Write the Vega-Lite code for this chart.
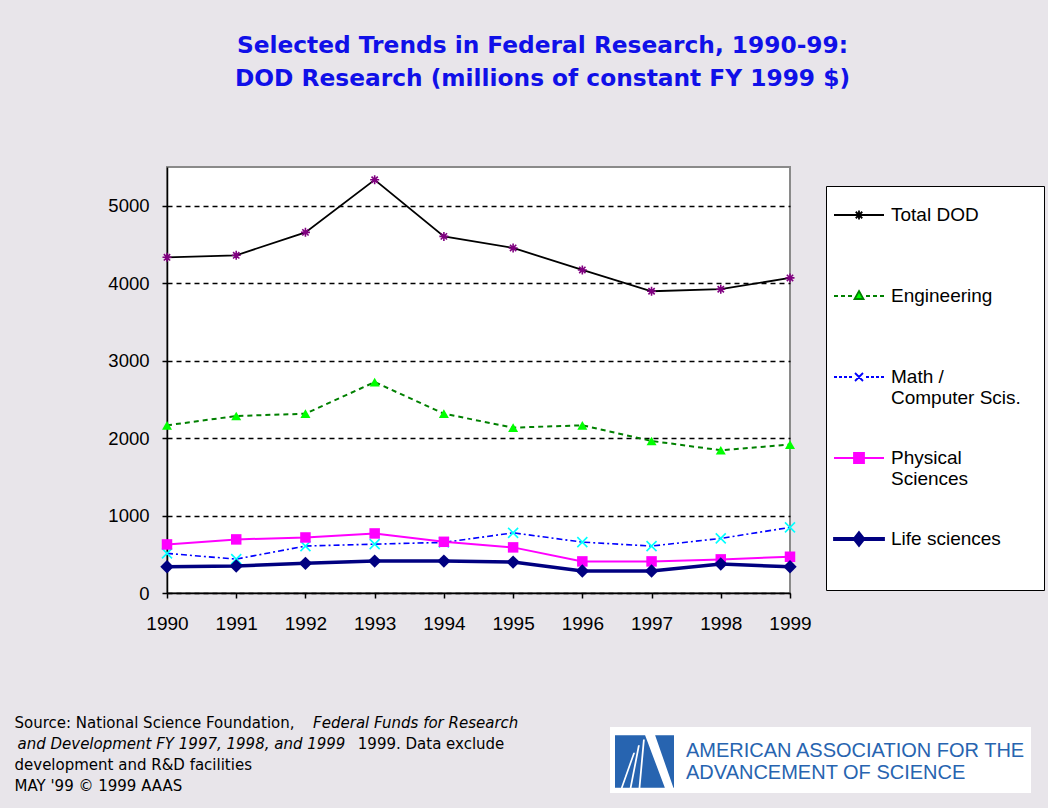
{
  "$schema": "https://vega.github.io/schema/vega-lite/v6.json",
  "width": 623,
  "height": 426,
  "autosize": "none",
  "padding": {"left": 167, "top": 167, "right": 258, "bottom": 215},
  "background": "#e8e5ea",
  "title": {
    "text": ["Selected Trends in Federal Research, 1990-99:", "DOD Research (millions of constant FY 1999 $)"],
    "font": "DejaVu Sans",
    "fontSize": 23.3,
    "fontWeight": "bold",
    "color": "#1010e8",
    "anchor": "middle",
    "frame": "group",
    "dx": 64,
    "offset": 76,
    "lineHeight": 33
  },
  "config": {
    "view": {"fill": "white", "stroke": "#8a8a8a", "strokeWidth": 2},
    "axis": {
      "domainColor": "black",
      "domainWidth": 1.5,
      "tickColor": "black",
      "tickWidth": 1.5,
      "tickSize": 5,
      "labelFont": "Liberation Sans",
      "labelColor": "black"
    }
  },
  "resolve": {
    "scale": {"shape": "independent", "stroke": "independent", "fill": "independent"},
    "legend": {"shape": "independent", "stroke": "independent", "fill": "independent"}
  },
  "data": {
    "values": [
      {"year": 1990, "series": "Total DOD", "value": 4334},
      {"year": 1991, "series": "Total DOD", "value": 4360},
      {"year": 1992, "series": "Total DOD", "value": 4656},
      {"year": 1993, "series": "Total DOD", "value": 5335},
      {"year": 1994, "series": "Total DOD", "value": 4604},
      {"year": 1995, "series": "Total DOD", "value": 4455},
      {"year": 1996, "series": "Total DOD", "value": 4171},
      {"year": 1997, "series": "Total DOD", "value": 3896},
      {"year": 1998, "series": "Total DOD", "value": 3922},
      {"year": 1999, "series": "Total DOD", "value": 4068},
      {"year": 1990, "series": "Engineering", "value": 2165},
      {"year": 1991, "series": "Engineering", "value": 2285},
      {"year": 1992, "series": "Engineering", "value": 2315},
      {"year": 1993, "series": "Engineering", "value": 2723},
      {"year": 1994, "series": "Engineering", "value": 2315},
      {"year": 1995, "series": "Engineering", "value": 2135},
      {"year": 1996, "series": "Engineering", "value": 2165},
      {"year": 1997, "series": "Engineering", "value": 1963},
      {"year": 1998, "series": "Engineering", "value": 1843},
      {"year": 1999, "series": "Engineering", "value": 1916},
      {"year": 1990, "series": "Math / Computer Scis.", "value": 511},
      {"year": 1991, "series": "Math / Computer Scis.", "value": 438},
      {"year": 1992, "series": "Math / Computer Scis.", "value": 606},
      {"year": 1993, "series": "Math / Computer Scis.", "value": 631},
      {"year": 1994, "series": "Math / Computer Scis.", "value": 653},
      {"year": 1995, "series": "Math / Computer Scis.", "value": 777},
      {"year": 1996, "series": "Math / Computer Scis.", "value": 657},
      {"year": 1997, "series": "Math / Computer Scis.", "value": 606},
      {"year": 1998, "series": "Math / Computer Scis.", "value": 705},
      {"year": 1999, "series": "Math / Computer Scis.", "value": 847},
      {"year": 1990, "series": "Physical Sciences", "value": 627},
      {"year": 1991, "series": "Physical Sciences", "value": 692},
      {"year": 1992, "series": "Physical Sciences", "value": 717},
      {"year": 1993, "series": "Physical Sciences", "value": 769},
      {"year": 1994, "series": "Physical Sciences", "value": 661},
      {"year": 1995, "series": "Physical Sciences", "value": 589},
      {"year": 1996, "series": "Physical Sciences", "value": 408},
      {"year": 1997, "series": "Physical Sciences", "value": 408},
      {"year": 1998, "series": "Physical Sciences", "value": 434},
      {"year": 1999, "series": "Physical Sciences", "value": 468},
      {"year": 1990, "series": "Life sciences", "value": 339},
      {"year": 1991, "series": "Life sciences", "value": 348},
      {"year": 1992, "series": "Life sciences", "value": 383},
      {"year": 1993, "series": "Life sciences", "value": 412},
      {"year": 1994, "series": "Life sciences", "value": 412},
      {"year": 1995, "series": "Life sciences", "value": 399},
      {"year": 1996, "series": "Life sciences", "value": 284},
      {"year": 1997, "series": "Life sciences", "value": 284},
      {"year": 1998, "series": "Life sciences", "value": 374},
      {"year": 1999, "series": "Life sciences", "value": 339}
    ]
  },
  "encoding": {
    "x": {
      "field": "year",
      "type": "quantitative",
      "scale": {"domain": [1990, 1999], "nice": false, "zero": false},
      "axis": {
        "values": [1990, 1991, 1992, 1993, 1994, 1995, 1996, 1997, 1998, 1999],
        "format": "d",
        "grid": false,
        "labelFontSize": 19,
        "labelPadding": 16,
        "labelFlush": false,
        "labelOverlap": false,
        "title": [
          "Source: National Science Foundation,",
          "\u200b\u00a0\u00a0\u00a0\u00a0\u00a0\u00a0\u00a0\u00a0\u00a0\u00a0\u00a0\u00a0\u00a0\u00a0\u00a0\u00a0\u00a0\u00a0\u00a0\u00a0\u00a0\u00a0\u00a0\u00a0\u00a0\u00a0\u00a0\u00a0\u00a0\u00a0\u00a0\u00a0\u00a0\u00a0\u00a0\u00a0\u00a0\u00a0\u00a0\u00a0\u00a0\u00a0\u00a0\u00a0\u00a0\u00a0\u00a0\u00a0\u00a0\u00a0\u00a0\u00a0\u00a0\u00a0\u00a0\u00a0\u00a0\u00a0\u00a0\u00a0\u00a0\u00a0\u00a0\u00a0\u00a0\u00a0\u00a0\u00a0\u00a0\u00a0\u00a0\u00a01999. Data exclude",
          "development and R&D facilities",
          "MAY '99 \u00a9 1999 AAAS"
        ],
        "titleX": -153,
        "titleY": 122,
        "titleAngle": 0,
        "titleAlign": "left",
        "titleAnchor": "start",
        "titleBaseline": "top",
        "titleFont": "DejaVu Sans",
        "titleFontSize": 15,
        "titleFontWeight": "normal",
        "titleLineHeight": 21,
        "titleColor": "black"
      }
    },
    "y": {
      "field": "value",
      "type": "quantitative",
      "scale": {"domain": [0, 5500], "nice": false},
      "axis": {
        "values": [0, 1000, 2000, 3000, 4000, 5000],
        "format": "d",
        "grid": true,
        "gridColor": "black",
        "gridDash": [5, 4],
        "gridWidth": 1.3,
        "labelFontSize": 18.5,
        "labelPadding": 13,
        "title": [
          "\u200b\u00a0\u00a0\u00a0\u00a0\u00a0\u00a0\u00a0\u00a0\u00a0\u00a0\u00a0\u00a0\u00a0\u00a0\u00a0\u00a0\u00a0\u00a0\u00a0\u00a0\u00a0\u00a0\u00a0\u00a0\u00a0\u00a0\u00a0\u00a0\u00a0\u00a0\u00a0\u00a0\u00a0\u00a0\u00a0\u00a0\u00a0\u00a0\u00a0\u00a0\u00a0\u00a0\u00a0\u00a0\u00a0\u00a0\u00a0\u00a0\u00a0\u00a0\u00a0\u00a0\u00a0\u00a0\u00a0\u00a0\u00a0\u00a0\u00a0\u00a0\u00a0\u00a0Federal Funds for Research",
          "and Development FY 1997, 1998, and 1999"
        ],
        "titleX": -150,
        "titleY": 548.5,
        "titleAngle": 0,
        "titleAlign": "left",
        "titleAnchor": "start",
        "titleBaseline": "top",
        "titleFont": "DejaVu Sans",
        "titleFontStyle": "italic",
        "titleFontSize": 15,
        "titleFontWeight": "normal",
        "titleLineHeight": 21,
        "titleColor": "black"
      }
    }
  },
  "layer": [
    {
      "transform": [{"filter": "datum.series === 'Total DOD'"}],
      "mark": {"type": "line", "color": "#000000", "strokeWidth": 1.8}
    },
    {
      "transform": [{"filter": "datum.series === 'Total DOD'"}],
      "mark": {"type": "point", "shape": "M-1,0H1M0,-1V1M-0.7,-0.7L0.7,0.7M-0.7,0.7L0.7,-0.7", "size": 81, "filled": false, "stroke": "#800080", "strokeWidth": 1.6, "opacity": 1}
    },
    {
      "transform": [{"filter": "datum.series === 'Engineering'"}],
      "mark": {"type": "line", "color": "#008000", "strokeWidth": 2, "strokeDash": [5, 4]}
    },
    {
      "transform": [{"filter": "datum.series === 'Engineering'"}],
      "mark": {"type": "point", "shape": "triangle-up", "size": 100, "filled": true, "color": "#00ff00", "opacity": 1}
    },
    {
      "transform": [{"filter": "datum.series === 'Math / Computer Scis.'"}],
      "mark": {"type": "line", "color": "#0000ff", "strokeWidth": 1.6, "strokeDash": [6, 3, 2, 3]}
    },
    {
      "transform": [{"filter": "datum.series === 'Math / Computer Scis.'"}],
      "mark": {"type": "point", "shape": "M-1,-1L1,1M-1,1L1,-1", "size": 100, "filled": false, "stroke": "#00ffff", "strokeWidth": 1.6, "opacity": 1}
    },
    {
      "transform": [{"filter": "datum.series === 'Physical Sciences'"}],
      "mark": {"type": "line", "color": "#ff00ff", "strokeWidth": 2}
    },
    {
      "transform": [{"filter": "datum.series === 'Physical Sciences'"}],
      "mark": {"type": "point", "shape": "square", "size": 110, "filled": true, "color": "#ff00ff", "opacity": 1}
    },
    {
      "transform": [{"filter": "datum.series === 'Life sciences'"}],
      "mark": {"type": "line", "color": "#000080", "strokeWidth": 3.5}
    },
    {
      "transform": [{"filter": "datum.series === 'Life sciences'"}],
      "mark": {"type": "point", "shape": "diamond", "size": 180, "filled": true, "color": "#000080", "opacity": 1}
    },
    {
      "transform": [{"filter": "false"}],
      "mark": {"type": "point", "opacity": 1, "strokeWidth": 1.8},
      "encoding": {
        "shape": {
          "field": "series",
          "type": "nominal",
          "scale": {
            "domain": ["Total DOD", "Engineering", "Math / Computer Scis.", "Physical Sciences", "Life sciences"],
            "range": [
              "M-1,0H1M-0.18,0H0.18M0,-0.18V0.18M-0.13,-0.13L0.13,0.13M-0.13,0.13L0.13,-0.13",
              "M-1,0H-0.84M-0.72,0H-0.56M-0.44,0H-0.28M0.28,0H0.44M0.56,0H0.72M0.84,0H1M0,-0.2L0.18,0.12L-0.18,0.12Z",
              "M-1,0H-0.88M-0.8,0H-0.68M-0.6,0H-0.48M-0.4,0H-0.28M0.28,0H0.4M0.48,0H0.6M0.68,0H0.8M0.88,0H1M-0.16,-0.16L0.16,0.16M-0.16,0.16L0.16,-0.16",
              "M-1,0H1M-0.2,-0.2H0.2V0.2H-0.2Z",
              "M-1,-0.04H1V0.04H-1ZM0,-0.28L0.22,0L0,0.28L-0.22,0Z"
            ]
          },
          "legend": {
            "orient": "none",
            "legendX": 659,
            "legendY": 19,
            "title": "\u200b\u00a0\u00a0\u00a0\u00a0\u00a0\u00a0\u00a0\u00a0\u00a0\u00a0\u00a0\u00a0\u00a0\u00a0\u00a0\u00a0\u00a0\u00a0\u00a0\u00a0\u00a0\u00a0\u00a0\u00a0\u00a0\u00a0\u00a0\u00a0\u00a0\u00a0\u00a0\u00a0\u00a0\u00a0\u00a0\u00a0\u00a0\u00a0\u200b",
            "titleOrient": "bottom",
            "titleFont": "Liberation Sans",
            "titleFontWeight": "normal",
            "titleFontSize": 20,
            "titleLimit": 500,
            "titlePadding": 17,
            "padding": 3,
            "strokeColor": "black",
            "fillColor": "white",
            "symbolSize": 2500,
            "symbolOffset": 4,
            "symbolStrokeWidth": 1.8,
            "labelOffset": 6,
            "rowPadding": 24,
            "gridAlign": "all",
            "labelFont": "Liberation Sans",
            "labelFontSize": 19,
            "labelColor": "black",
            "labelLimit": 300,
            "labelExpr": "datum.label === 'Math / Computer Scis.' ? ['Math /', 'Computer Scis.'] : datum.label === 'Physical Sciences' ? ['Physical', 'Sciences'] : datum.label"
          }
        },
        "stroke": {
          "field": "series",
          "type": "nominal",
          "scale": {
            "domain": ["Total DOD", "Engineering", "Math / Computer Scis.", "Physical Sciences", "Life sciences"],
            "range": ["#000000", "#008000", "#0000ff", "#ff00ff", "#000080"]
          }
        },
        "fill": {
          "field": "series",
          "type": "nominal",
          "scale": {
            "domain": ["Total DOD", "Engineering", "Math / Computer Scis.", "Physical Sciences", "Life sciences"],
            "range": ["transparent", "#00ff00", "transparent", "#ff00ff", "#000080"]
          }
        }
      }
    },
    {
      "transform": [{"filter": "false"}],
      "mark": {"type": "point", "opacity": 1, "filled": true, "fill": "#2764b0", "stroke": "transparent", "strokeWidth": 0},
      "encoding": {
        "shape": {
          "field": "org",
          "type": "nominal",
          "scale": {
            "domain": ["AMERICAN ASSOCIATION FOR THE|ADVANCEMENT OF SCIENCE"],
            "range": ["M-1,-0.89H1V0.89H-1ZM0.02,-0.89L0.69,0.89L0.98,0.89L0.36,-0.89ZM-0.05,-0.75L-0.2,0.89L-0.14,0.89L0.01,-0.75ZM-0.22,-0.55L-0.5,0.89L-0.44,0.89L-0.16,-0.55ZM-0.38,-0.3L-0.8,0.89L-0.74,0.89L-0.32,-0.3Z"]
          },
          "legend": {
            "orient": "none",
            "legendX": 443,
            "legendY": 560,
            "title": null,
            "padding": 5,
            "fillColor": "white",
            "symbolSize": 3481,
            "symbolOffset": 0,
            "symbolStrokeWidth": 0,
            "labelOffset": 12,
            "labelFont": "Liberation Sans",
            "labelFontSize": 20,
            "labelColor": "#2764b0",
            "labelLimit": 500,
            "labelBaseline": "line-bottom",
            "labelExpr": "split(datum.label, '|')"
          }
        }
      }
    }
  ]
}
